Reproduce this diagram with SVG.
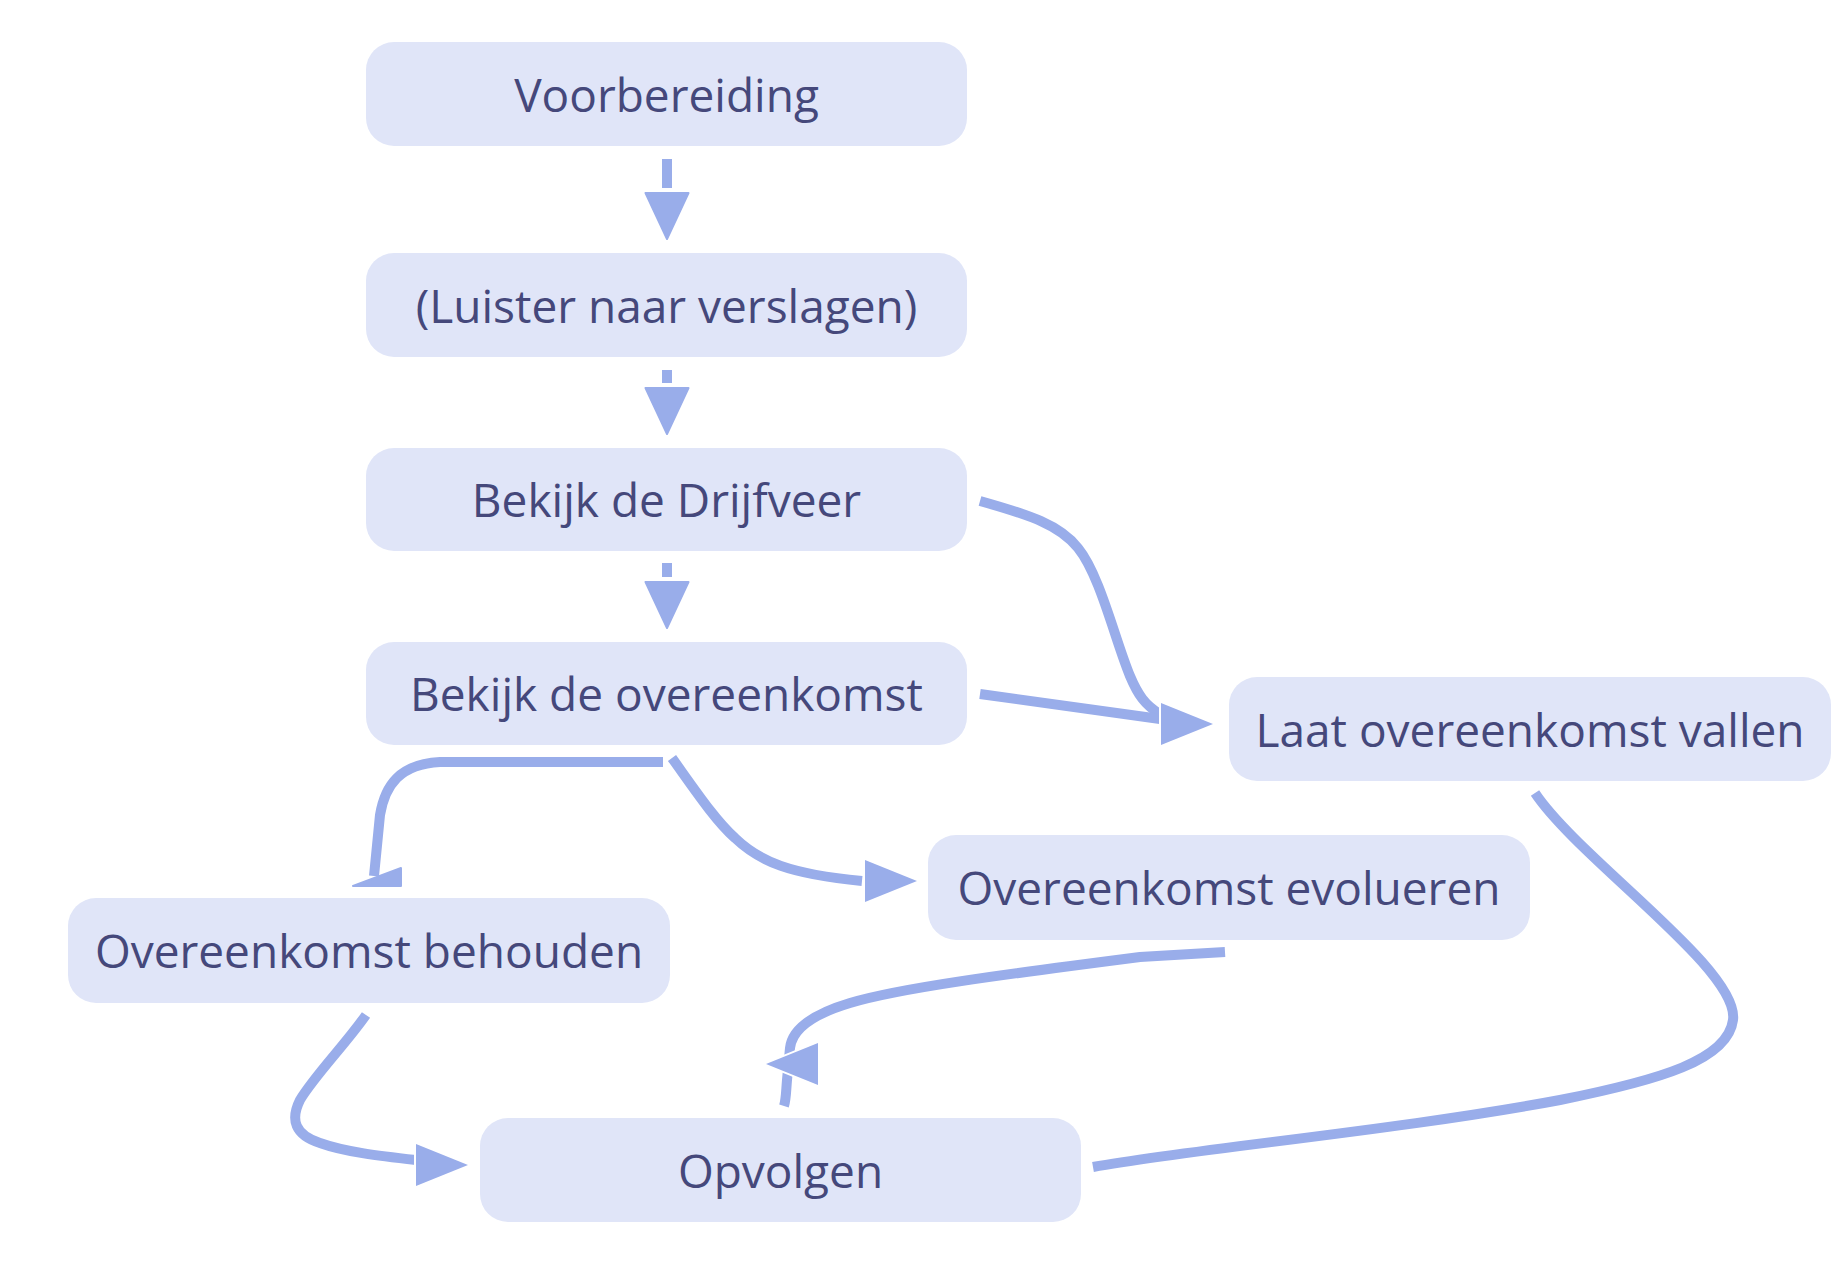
<svg xmlns="http://www.w3.org/2000/svg" width="1847" height="1263" viewBox="0 0 1847 1263">
<style>
.node rect{fill:#e0e5f8;}
.node text{font-family:"Open Sans","Noto Sans","Liberation Sans",sans-serif;font-size:46px;fill:#45487b;text-anchor:middle;}
.edge{fill:none;stroke:#99adea;stroke-width:10;stroke-linecap:butt;}
.ah{fill:#99adea;stroke:#99adea;stroke-width:2;stroke-linejoin:round;}
.ahw{fill:#99adea;stroke:#ffffff;stroke-width:4;stroke-linejoin:round;paint-order:stroke fill;}
</style>
<defs>
<path id="arrR" d="M0,0 L-52,-21 L-52,21 Z"/>
<path id="arrD" d="M0,0 L-21.5,-46 L21.5,-46 Z"/>
</defs>
<rect width="1847" height="1263" fill="#ffffff"/>
<g id="connectors">
<path class="edge" d="M667,159 L667,188"/>
<use href="#arrD" class="ah" transform="translate(667,239)"/>
<path class="edge" d="M667,370 L667,383"/>
<use href="#arrD" class="ah" transform="translate(667,434)"/>
<path class="edge" d="M667,563 L667,577"/>
<use href="#arrD" class="ah" transform="translate(667,628)"/>
<path class="edge" d="M663,762 L440,762 C400,764 385,785 380,815 L374,876"/>
<polygon class="ah" points="401,868 401,886 353,886"/>
<path class="edge" d="M672,758 C695,790 715,820 735,838 C760,862 790,874 862,881"/>
<use href="#arrR" class="ahw" transform="translate(917,881)"/>
<path class="edge" d="M980,501 C1030,515 1060,525 1078,548 C1100,575 1115,640 1130,676 C1138,695 1145,705 1160,714"/>
<path class="edge" d="M980,694 L1160,719"/>
<use href="#arrR" class="ahw" transform="translate(1213,724)"/>
<path class="edge" d="M1535,793 C1580,860 1740,970 1733,1020 C1728,1060 1660,1080 1560,1100 C1400,1130 1200,1148 1093,1167"/>
<path class="edge" d="M1225,952 L1140,957 C1000,975 900,988 850,1003 C810,1015 792,1030 790,1048 L787,1080 C786,1092 786,1100 784,1106"/>
<use href="#arrR" class="ahw" transform="translate(766,1064) rotate(180)"/>
<path class="edge" d="M366,1015 C345,1045 315,1075 300,1100 C290,1120 295,1135 320,1143 C345,1152 380,1156 416,1160"/>
<use href="#arrR" class="ahw" transform="translate(468,1165)"/>
</g>
<g id="voorbereiding" class="node"><rect x="366" y="42" width="601" height="104" rx="28"/><text x="666.5" y="112">Voorbereiding</text></g>
<g id="luister" class="node"><rect x="366" y="253" width="601" height="104" rx="28"/><text x="666.5" y="323">(Luister naar verslagen)</text></g>
<g id="drijfveer" class="node"><rect x="366" y="448" width="601" height="103" rx="28"/><text x="666.5" y="517">Bekijk de Drijfveer</text></g>
<g id="bekijk-overeenkomst" class="node"><rect x="366" y="642" width="601" height="103" rx="28"/><text x="666.5" y="711">Bekijk de overeenkomst</text></g>
<g id="laat-vallen" class="node"><rect x="1229" y="677" width="602" height="104" rx="28"/><text x="1530" y="747">Laat overeenkomst vallen</text></g>
<g id="evolueren" class="node"><rect x="928" y="835" width="602" height="105" rx="28"/><text x="1229" y="905">Overeenkomst evolueren</text></g>
<g id="behouden" class="node"><rect x="68" y="898" width="602" height="105" rx="28"/><text x="369" y="968">Overeenkomst behouden</text></g>
<g id="opvolgen" class="node"><rect x="480" y="1118" width="601" height="104" rx="28"/><text x="780.5" y="1188">Opvolgen</text></g>
</svg>
